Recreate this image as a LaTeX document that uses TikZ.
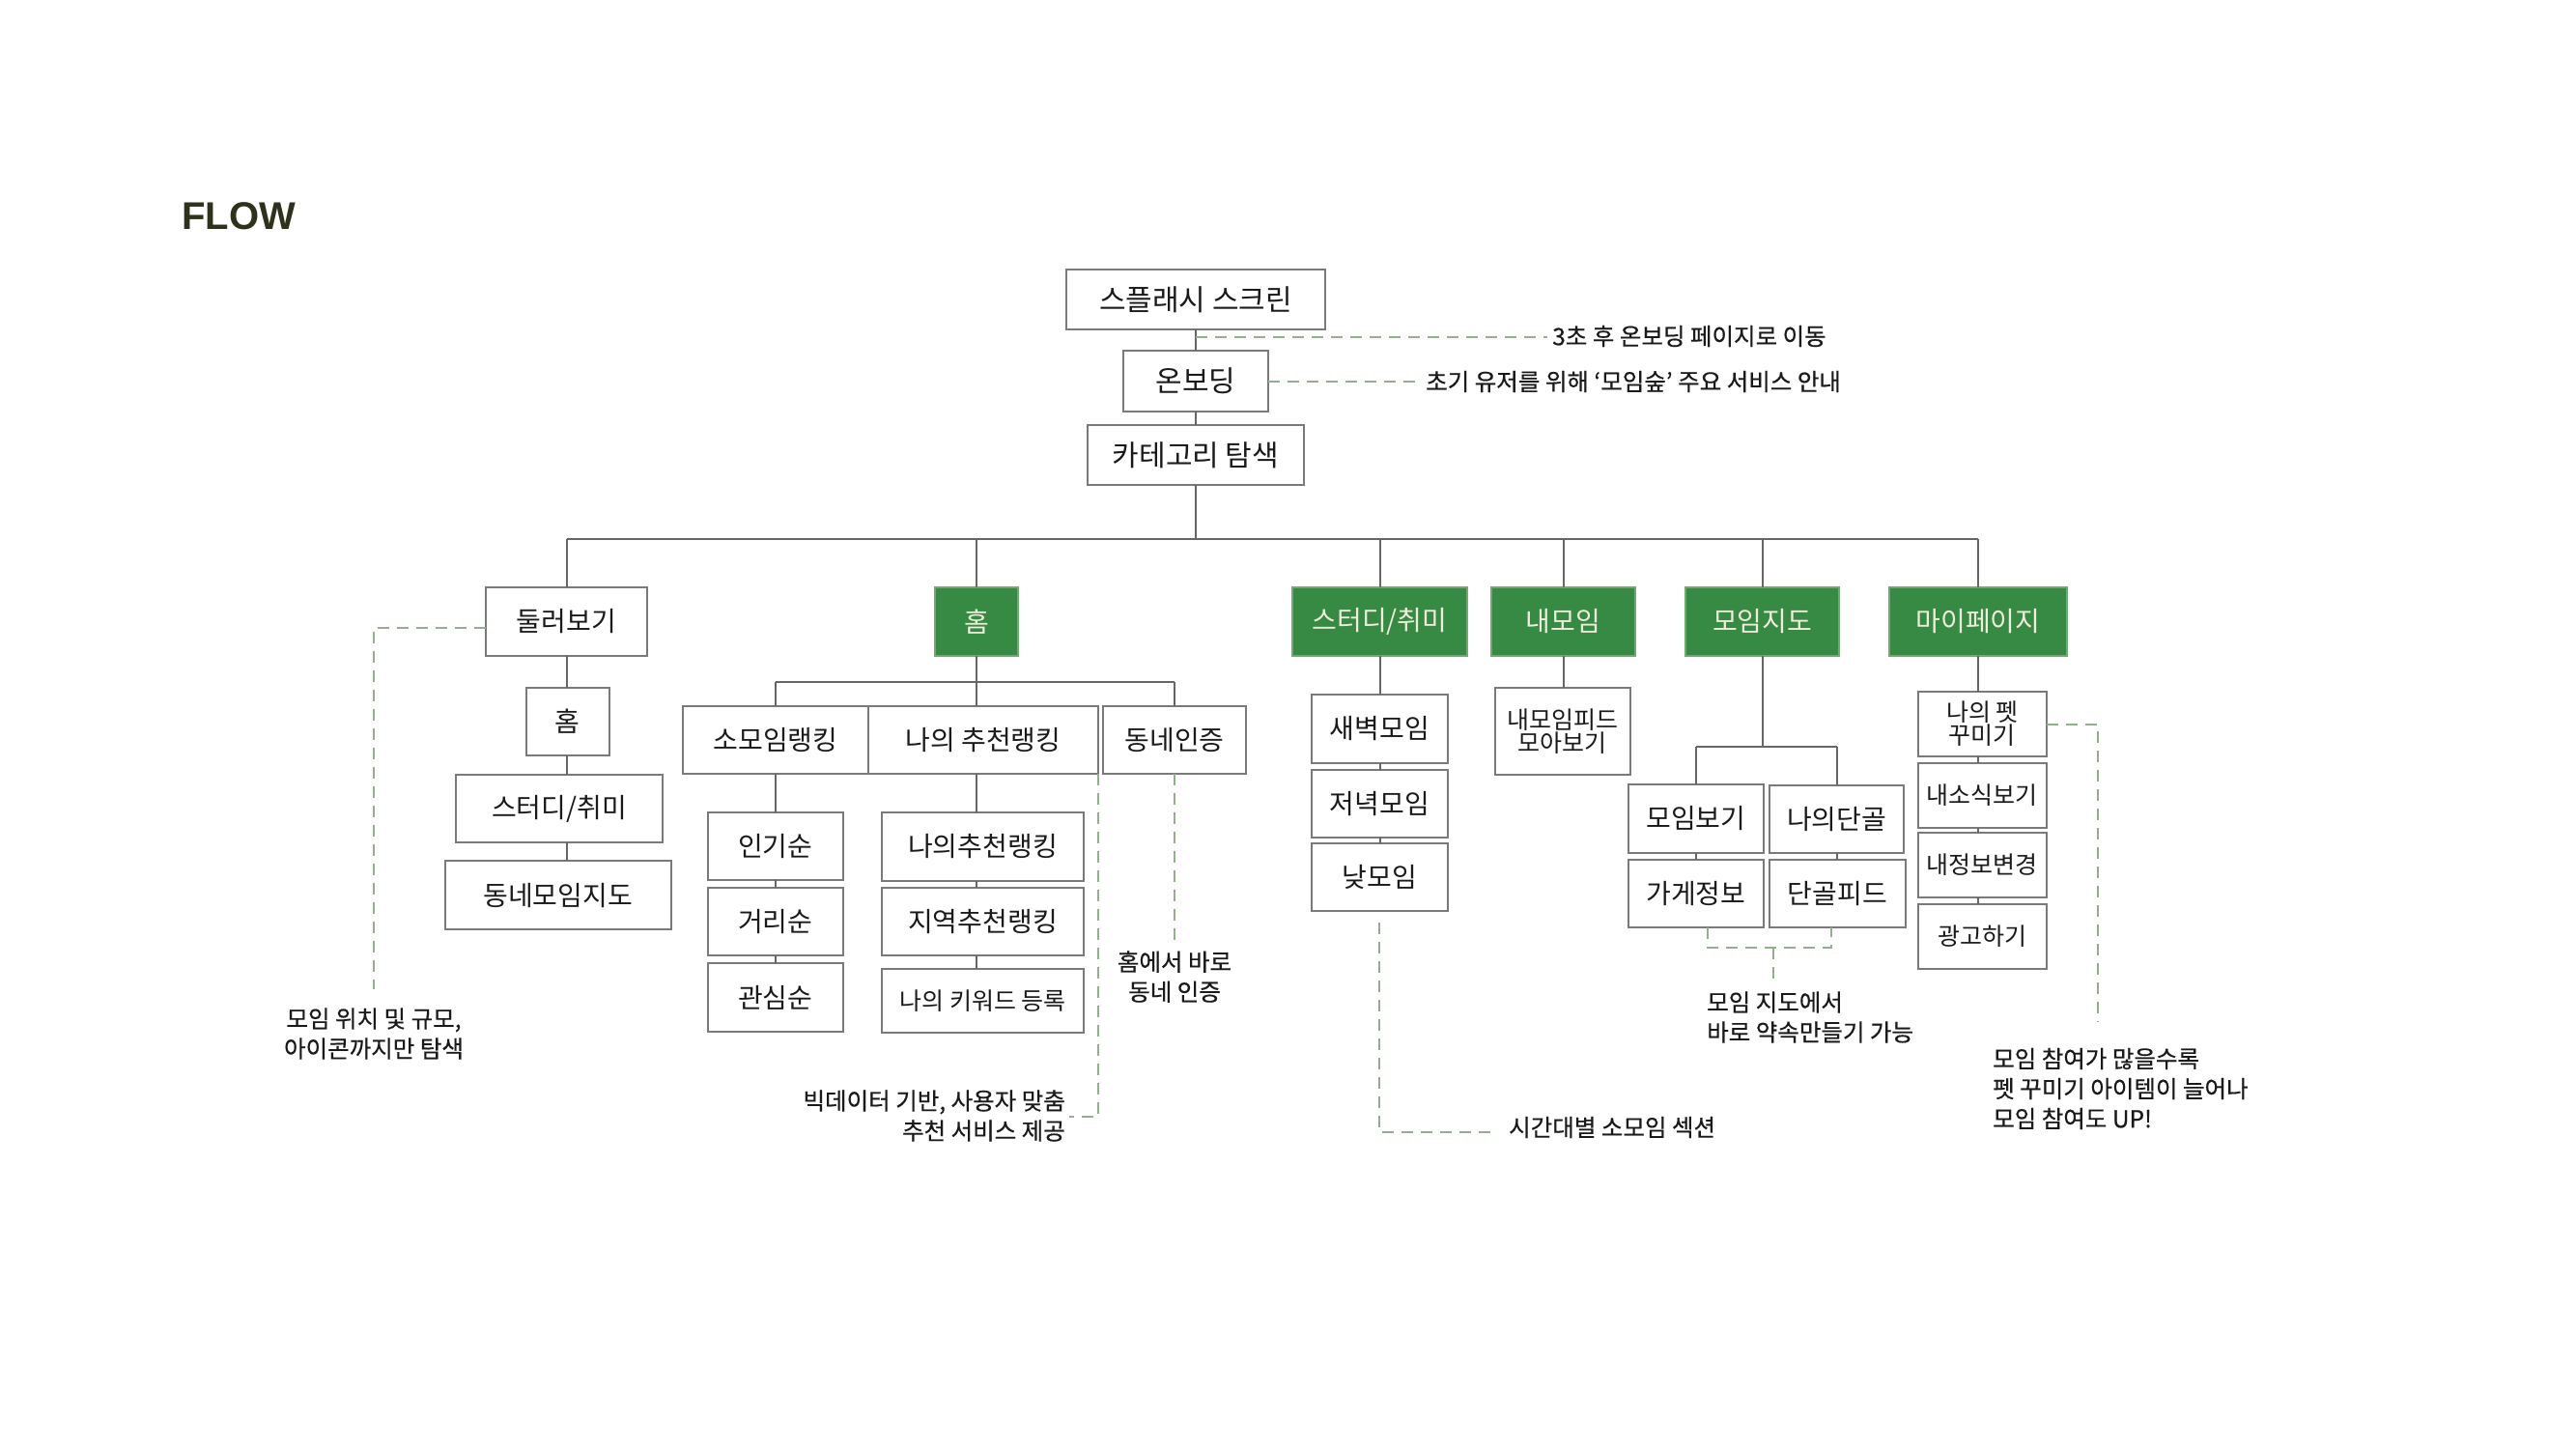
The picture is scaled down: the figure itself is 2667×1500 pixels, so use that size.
\documentclass[tikz,border=0pt]{standalone}
\usepackage{fontspec}
\setmainfont{Noto Sans CJK KR}
\newfontfamily\notefont[FakeBold=0.5]{Noto Sans CJK KR}
\newfontfamily\flowfont{Liberation Sans}
\usetikzlibrary{calc}
\definecolor{grn}{HTML}{378A43}
\definecolor{grnb}{HTML}{6FAA72}
\definecolor{cream}{HTML}{EEEDDC}
\definecolor{bordc}{HTML}{7A7A7A}
\definecolor{linec}{HTML}{666666}
\definecolor{dashc}{HTML}{93B08E}
\definecolor{txtc}{HTML}{1A1A1A}
\definecolor{flowc}{HTML}{2E321C}
\newcommand\mybox[7][]{%
  \pgfmathsetmacro\mbw{#4-#2}\pgfmathsetmacro\mbh{#5-#3}%
  \pgfmathsetmacro\mbx{(#2+#4)/2}\pgfmathsetmacro\mby{(#3+#5)/2}%
  \node[box,#1,minimum width=\mbw pt,minimum height=\mbh pt] (#6) at (\mbx,\mby) {#7};}
\begin{document}
\begin{tikzpicture}[x=1pt,y=-1pt,
  box/.style={draw=bordc,line width=2pt,fill=white,inner sep=0pt,outer sep=0pt,
    font=\fontsize{28}{32}\selectfont,text=txtc,align=center},
  gbox/.style={fill=grn,draw=grnb,text=cream},
  big/.style={font=\fontsize{30}{34}\selectfont},
  small/.style={font=\fontsize{25}{28}\selectfont},
  ln/.style={draw=linec,line width=2pt},
  dsh/.style={draw=dashc,line width=2pt,dash pattern=on 12pt off 8pt},
  note/.style={inner sep=0pt,font=\notefont\fontsize{24.5}{31}\selectfont,text=txtc}]
\useasboundingbox[fill=white] (0,0) rectangle (2667,1500);

\node[anchor=base west,inner sep=0pt,text=flowc,font=\flowfont\bfseries\fontsize{40}{40}\selectfont] (flow) at (188,237) {FLOW};

% top chain
\mybox[big]{1104}{279}{1372}{341}{splash}{스플래시 스크린}
\mybox[big]{1163}{363}{1313}{426}{onb}{온보딩}
\mybox[big]{1126}{440}{1350}{502}{cat}{카테고리 탐색}

% level 1
\mybox{503}{608}{670}{679}{dul}{둘러보기}
\mybox[gbox]{968}{608}{1054}{679}{home}{홈}
\mybox[gbox]{1338}{608}{1519}{679}{study}{스터디/취미}
\mybox[gbox]{1544}{608}{1693}{679}{mymeet}{내모임}
\mybox[gbox]{1745}{608}{1904}{679}{map}{모임지도}
\mybox[gbox]{1956}{608}{2140}{679}{mypage}{마이페이지}

% dul children
\mybox{544.5}{712}{631}{782}{dhome}{홈}
\mybox{472}{802}{686}{872}{dstudy}{스터디/취미}
\mybox{461}{891}{694.5}{962}{dmap}{동네모임지도}

% home children
\mybox{707}{731}{899}{801}{srank}{소모임랭킹}
\mybox{899}{731}{1137}{801}{mrank}{나의 추천랭킹}
\mybox{1142}{731}{1290}{801}{town}{동네인증}
\mybox{732.6}{841}{873}{911}{pop}{인기순}
\mybox{732.6}{919}{873}{989}{dist}{거리순}
\mybox{732.6}{997}{873}{1068}{intr}{관심순}
\mybox{913}{841}{1122}{912}{ra}{나의추천랭킹}
\mybox{913}{919}{1122}{989}{rb}{지역추천랭킹}
\mybox[small]{913}{1003}{1122}{1069}{rc}{나의 키워드 등록}

% study children
\mybox{1357.5}{719}{1499}{789.6}{dawn}{새벽모임}
\mybox{1357.5}{796.7}{1499}{867}{eve}{저녁모임}
\mybox{1357.5}{872.6}{1499}{943}{day}{낮모임}

% mymeet child
\mybox[small]{1547.7}{711.7}{1688}{802}{feed}{내모임피드\\[-4pt]모아보기}

% map children
\mybox{1685.6}{811.7}{1826}{882.5}{mv}{모임보기}
\mybox{1832}{813}{1971}{882.5}{fav}{나의단골}
\mybox{1685.6}{889.6}{1826}{960}{shop}{가게정보}
\mybox{1831.6}{889.6}{1973}{960}{ffeed}{단골피드}

% mypage children
\mybox[small]{1985.6}{716}{2119}{783}{pet}{나의 펫\\[-4pt]꾸미기}
\mybox[small]{1985.6}{790}{2119}{857}{news}{내소식보기}
\mybox[small]{1985.6}{862}{2119}{929}{info}{내정보변경}
\mybox[small]{1985.6}{936}{2119}{1003}{ad}{광고하기}

% solid connectors
\coordinate (bar) at (1238,558);
\draw[ln] (splash.south) -- (onb.north);
\draw[ln] (onb.south) -- (cat.north);
\draw[ln] (cat.south) -- (cat.south |- bar);
\draw[ln] (dul.north |- bar) -- (mypage.north |- bar);
\foreach \n in {dul,home,study,mymeet,map,mypage} \draw[ln] (\n.north |- bar) -- (\n.north);

\draw[ln] (dul.south) -- (dul.south |- dhome.north);
\draw[ln] (dul.south |- dhome.south) -- (dul.south |- dstudy.north);
\draw[ln] (dul.south |- dstudy.south) -- (dul.south |- dmap.north);

\coordinate (hbar) at (1011,706);
\draw[ln] (home.south) -- (home.south |- hbar);
\draw[ln] (srank.north |- hbar) -- (town.north |- hbar);
\draw[ln] (srank.north |- hbar) -- (srank.north);
\draw[ln] (home.south |- hbar) -- (home.south |- mrank.north);
\draw[ln] (town.north |- hbar) -- (town.north);
\draw[ln] (srank.south) -- (srank.south |- pop.north);
\draw[ln] (srank.south |- pop.south) -- (srank.south |- dist.north);
\draw[ln] (srank.south |- dist.south) -- (srank.south |- intr.north);
\draw[ln] (home.south |- mrank.south) -- (home.south |- ra.north);
\draw[ln] (home.south |- ra.south) -- (home.south |- rb.north);
\draw[ln] (home.south |- rb.south) -- (home.south |- rc.north);

\draw[ln] (study.south) -- (study.south |- dawn.north);
\draw[ln] (study.south |- dawn.south) -- (study.south |- eve.north);
\draw[ln] (study.south |- eve.south) -- (study.south |- day.north);

\draw[ln] (mymeet.south) -- (mymeet.south |- feed.north);

\coordinate (mbar) at (1824.5,772.6);
\draw[ln] (map.south) -- (map.south |- mbar);
\draw[ln] (mv.north |- mbar) -- (fav.north |- mbar);
\draw[ln] (mv.north |- mbar) -- (mv.north);
\draw[ln] (fav.north |- mbar) -- (fav.north);
\draw[ln] (mv.south) -- (mv.south |- shop.north);
\draw[ln] (fav.south) -- (fav.south |- ffeed.north);

\draw[ln] (mypage.south) -- (mypage.south |- pet.north);
\draw[ln] (mypage.south |- pet.south) -- (mypage.south |- news.north);
\draw[ln] (mypage.south |- news.south) -- (mypage.south |- info.north);
\draw[ln] (mypage.south |- info.south) -- (mypage.south |- ad.north);

% dashed annotations
\coordinate (e1) at (1602,349);
\draw[dsh] (splash.south |- e1) -- (e1);
\node[note,anchor=west] (t1) at (1607,348) {3초 후 온보딩 페이지로 이동};

\coordinate (e2) at (1471,394.5);
\draw[dsh] (onb.east) -- (e2);
\node[note,anchor=west] (t2) at (1476,395) {초기 유저를 위해 ‘모임숲’ 주요 서비스 안내};

\coordinate (e3) at (387,1024);
\draw[dsh] ([yshift=-6pt]dul.west) -| (e3);
\node[note,align=center] (t3) at (387,1070) {모임 위치 및 규모,\\아이콘까지만 탐색};

\coordinate (e4) at (1107,1156);
\draw[dsh] (mrank.south east) |- (e4);
\node[note,align=right,anchor=east] (t4) at (1103,1155) {빅데이터 기반, 사용자 맞춤\\추천 서비스 제공};

\coordinate (e5) at (1216,975);
\draw[dsh] (town.south) -- (e5);
\node[note,align=center] (t5) at (1216,1011) {홈에서 바로\\동네 인증};

\coordinate (e6) at (1547.7,1172);
\draw[dsh] ([yshift=-12pt]day.south) |- (e6);
\node[note,anchor=west] (t6) at (1562,1167) {시간대별 소모임 섹션};

\coordinate (e7) at (1835.6,980.5);
\coordinate (e8) at (1835.6,1015);
\draw[dsh] ([xshift=12pt]shop.south) |- (e7) -| ([xshift=-6pt]ffeed.south);
\draw[dsh] (e7) -- (e8);
\node[note,align=left,anchor=west] (t7) at (1767,1053) {모임 지도에서\\바로 약속만들기 가능};

\coordinate (e9) at (2171.7,1058);
\draw[dsh] (pet.east) -| (e9);
\node[note,align=left,anchor=west] (t8) at (2063,1127) {모임 참여가 많을수록\\펫 꾸미기 아이템이 늘어나\\모임 참여도 UP!};
\end{tikzpicture}
\end{document}
